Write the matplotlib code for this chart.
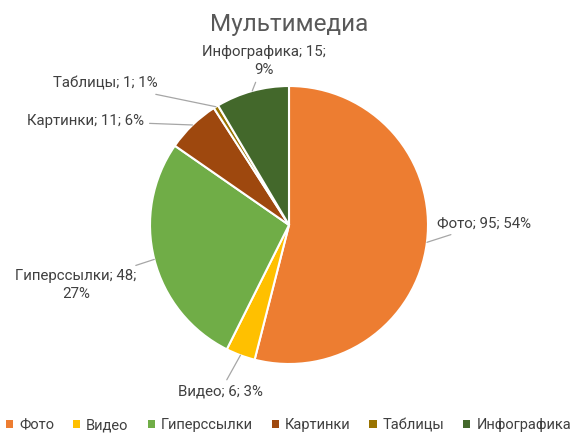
import matplotlib
matplotlib.use("Agg")
import matplotlib.pyplot as plt
import numpy as np

plt.rcParams['font.family'] = ['Roboto', 'DejaVu Sans']

categories = ["Фото", "Видео", "Гиперссылки", "Картинки", "Таблицы", "Инфографика"]
values = [95, 6, 48, 11, 1, 15]
percents = ["54%", "3%", "27%", "6%", "1%", "9%"]
colors = ["#ED7D31", "#FFC000", "#70AD47", "#9E480E", "#997300", "#43682B"]
title = "Мультимедиа"

W, H = 577, 437
fig = plt.figure(figsize=(W / 100, H / 100), dpi=100)
cx, cy, R = 289, 225, 139
ax = fig.add_axes([(cx - R * 1.0) / W, (H - cy - R) / H, 2 * R / W, 2 * R / H])
wedges, _ = ax.pie(values, colors=colors, startangle=90, counterclock=False,
                   radius=1.0, wedgeprops=dict(edgecolor="white", linewidth=1.5))
ax.set_xlim(-1, 1)
ax.set_ylim(-1, 1)
ax.set_aspect("equal")
ax.axis("off")


def px(x, y):
    return ((x - cx) / R, (cy - y) / R)

# label layout: (text position in px, ha, two-line?)
layout = [
    ((437, 224), "left", False),
    ((220, 392), "center", False),
    ((76, 285), "center", True),
    ((144, 121), "right", False),
    ((158, 84), "right", False),
    ((264, 61), "center", True),
]

for w, cat, v, p, (pos, ha, two) in zip(wedges, categories, values, percents, layout):
    ang = np.deg2rad((w.theta1 + w.theta2) / 2)
    xy = (np.cos(ang), np.sin(ang))
    txt = f"{cat}; {v};\n{p}" if two else f"{cat}; {v}; {p}"
    ax.annotate(txt, xy=xy, xytext=px(*pos), ha=ha, va="center",
                multialignment="center", fontsize=10.8, color="#404040",
                linespacing=1.35, annotation_clip=False,
                arrowprops=dict(arrowstyle="-", color="#A6A6A6", lw=0.9,
                                shrinkA=2, shrinkB=0))

fig.text(cx / W, 1 - 24 / H, title, ha="center", va="center",
         fontsize=17.5, color="#595959")

handles = [plt.Rectangle((0, 0), 1, 1, facecolor=c, edgecolor="none") for c in colors]
fig.legend(handles, categories, loc="center", bbox_to_anchor=(0.5, 1 - 425 / H),
           ncol=6, frameon=False, fontsize=10.5, handlelength=0.5, handleheight=0.5,
           handletextpad=0.4, columnspacing=1.3, labelcolor="#404040")

fig.savefig("out.png", dpi=100)
